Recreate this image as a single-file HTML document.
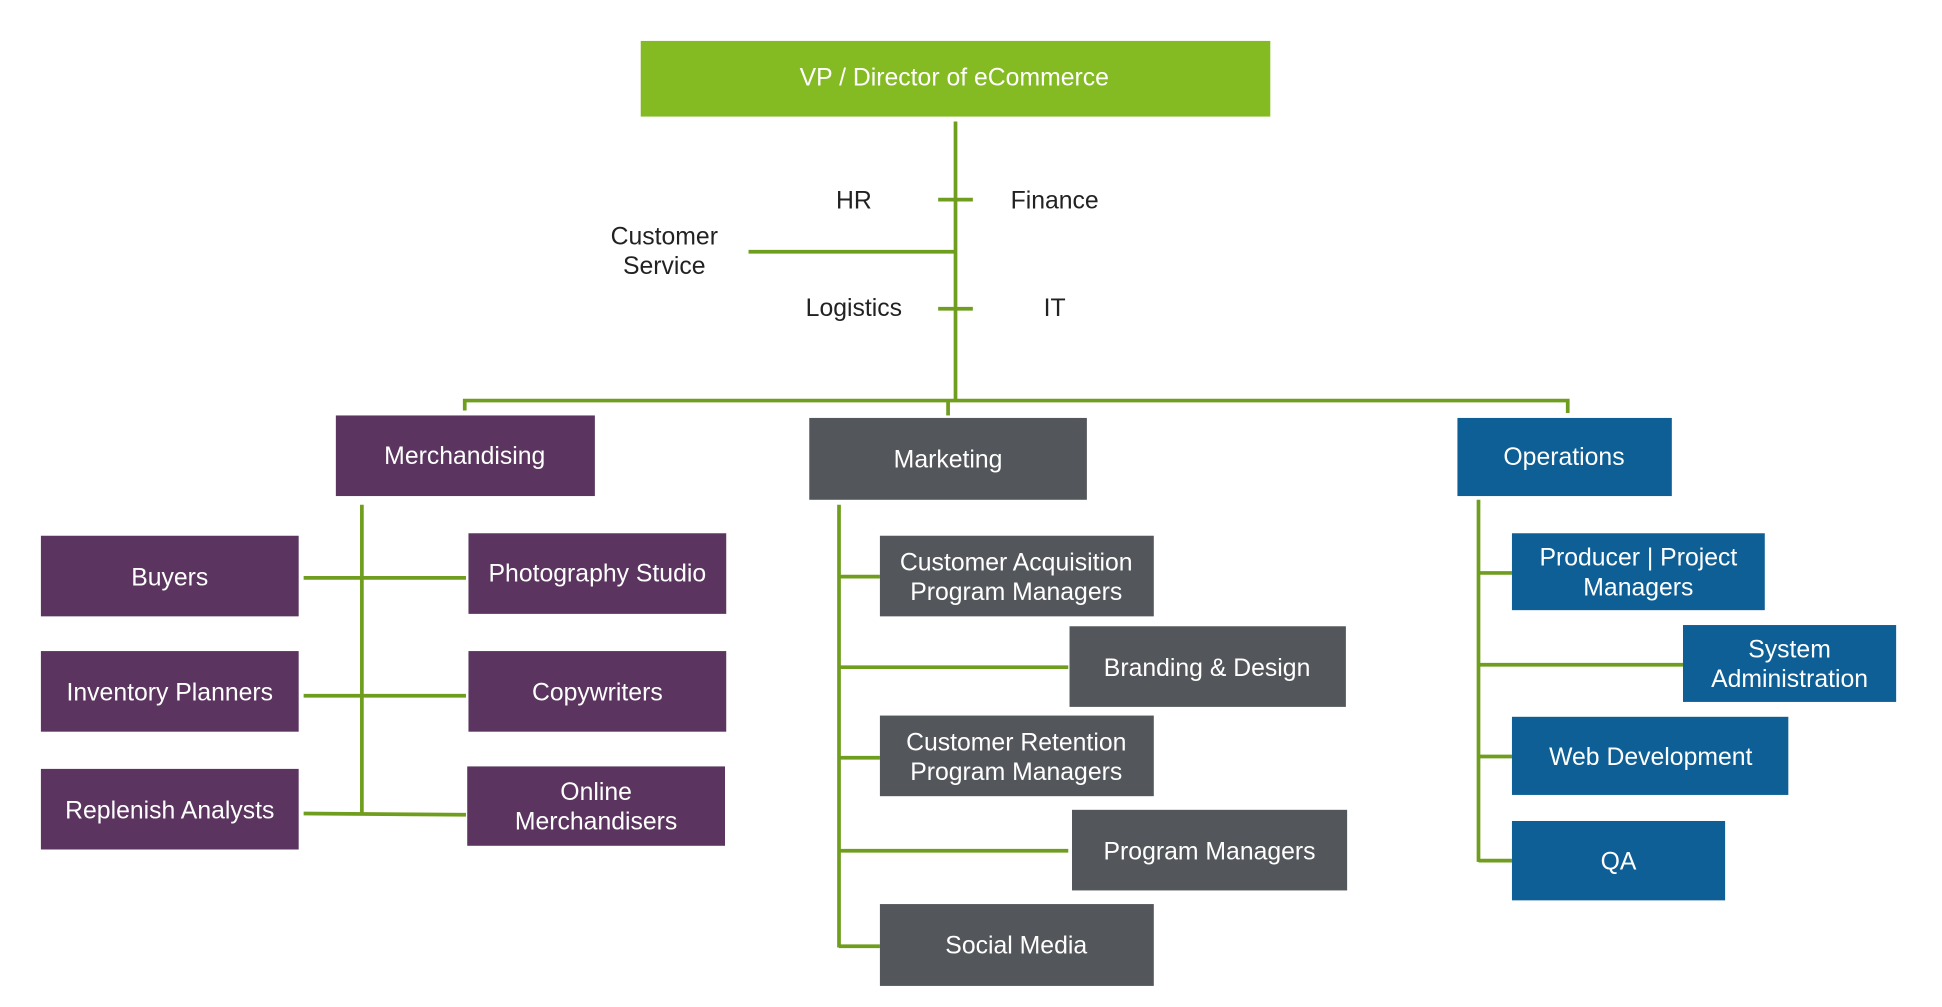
<!DOCTYPE html>
<html><head><meta charset="utf-8"><style>html,body{margin:0;padding:0;background:#fff;}svg{display:block}</style></head>
<body>
<svg width="1942" height="1007" viewBox="0 0 1567 812" preserveAspectRatio="none" xmlns="http://www.w3.org/2000/svg" font-family="Liberation Sans, sans-serif">
<g stroke="#6f9e1f" stroke-width="3" fill="none">
<line x1="771" y1="98" x2="771" y2="323"/>
<line x1="757" y1="161" x2="785" y2="161"/>
<line x1="757" y1="249" x2="785" y2="249"/>
<line x1="604" y1="203" x2="771" y2="203"/>
<polyline points="375,331 375,323 1265,323 1265,333"/>
<line x1="765" y1="323" x2="765" y2="335"/>
<line x1="292" y1="407" x2="292" y2="657"/>
<line x1="245" y1="466" x2="376" y2="466"/>
<line x1="245" y1="561" x2="376" y2="561"/>
<line x1="245" y1="656" x2="376" y2="657"/>
<line x1="677" y1="407" x2="677" y2="764"/>
<line x1="677" y1="465" x2="710" y2="465"/>
<line x1="677" y1="538" x2="862" y2="538"/>
<line x1="677" y1="611" x2="710" y2="611"/>
<line x1="677" y1="686" x2="862" y2="686"/>
<line x1="677" y1="763" x2="710" y2="763"/>
<line x1="1193" y1="403" x2="1193" y2="695"/>
<line x1="1193" y1="462" x2="1220" y2="462"/>
<line x1="1193" y1="536" x2="1358" y2="536"/>
<line x1="1193" y1="610" x2="1220" y2="610"/>
<line x1="1193" y1="694" x2="1220" y2="694"/>
</g>
<rect x="517" y="33" width="508" height="61" fill="#84bb22"/>
<g fill="#5b3560">
<rect x="271" y="335" width="209" height="65"/>
<rect x="33" y="432" width="208" height="65"/>
<rect x="378" y="430" width="208" height="65"/>
<rect x="33" y="525" width="208" height="65"/>
<rect x="378" y="525" width="208" height="65"/>
<rect x="33" y="620" width="208" height="65"/>
<rect x="377" y="618" width="208" height="64"/>
</g>
<g fill="#53565a">
<rect x="653" y="337" width="224" height="66"/>
<rect x="710" y="432" width="221" height="65"/>
<rect x="863" y="505" width="223" height="65"/>
<rect x="710" y="577" width="221" height="65"/>
<rect x="865" y="653" width="222" height="65"/>
<rect x="710" y="729" width="221" height="66"/>
</g>
<g fill="#0d5f96">
<rect x="1176" y="337" width="173" height="63"/>
<rect x="1220" y="430" width="204" height="62"/>
<rect x="1358" y="504" width="172" height="62"/>
<rect x="1220" y="578" width="223" height="63"/>
<rect x="1220" y="662" width="172" height="64"/>
</g>
<g fill="#fff" font-size="20" text-anchor="middle">
<text x="770" y="69">VP / Director of eCommerce</text>
<text x="375" y="374">Merchandising</text>
<text x="765" y="377">Marketing</text>
<text x="1262" y="375">Operations</text>
<text x="137" y="472">Buyers</text>
<text x="482" y="469">Photography Studio</text>
<text x="137" y="565">Inventory Planners</text>
<text x="482" y="565">Copywriters</text>
<text x="137" y="660">Replenish Analysts</text>
<text x="481" y="645">Online</text>
<text x="481" y="669">Merchandisers</text>
<text x="820" y="460">Customer Acquisition</text>
<text x="820" y="484">Program Managers</text>
<text x="974" y="545">Branding &amp; Design</text>
<text x="820" y="605">Customer Retention</text>
<text x="820" y="629">Program Managers</text>
<text x="976" y="693">Program Managers</text>
<text x="820" y="769">Social Media</text>
<text x="1322" y="456">Producer | Project</text>
<text x="1322" y="480">Managers</text>
<text x="1444" y="530">System</text>
<text x="1444" y="554">Administration</text>
<text x="1332" y="617">Web Development</text>
<text x="1306" y="701">QA</text>
</g>
<g fill="#222" font-size="20" text-anchor="middle">
<text x="689" y="168">HR</text>
<text x="851" y="168">Finance</text>
<text x="536" y="197">Customer</text>
<text x="536" y="221">Service</text>
<text x="689" y="255">Logistics</text>
<text x="851" y="255">IT</text>
</g>
</svg>
</body></html>
